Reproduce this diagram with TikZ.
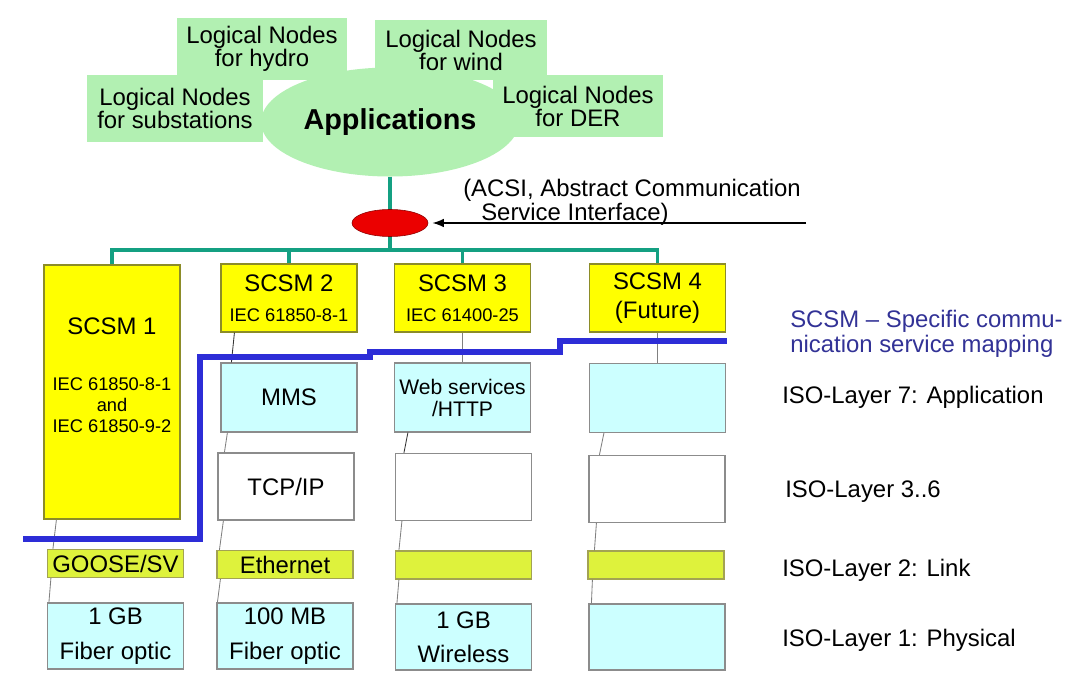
\documentclass[tikz,border=0pt]{standalone}
\usepackage{fontspec}
\setmainfont{Liberation Sans}
\usetikzlibrary{shapes.geometric, arrows.meta}
\definecolor{lngreen}{RGB}{178,240,178}
\definecolor{busteal}{RGB}{20,160,130}
\definecolor{scsmyellow}{RGB}{255,255,0}
\definecolor{scsmedge}{RGB}{140,140,40}
\definecolor{appcyan}{RGB}{204,255,255}
\definecolor{linklime}{RGB}{222,242,60}
\definecolor{boxedge}{RGB}{140,140,140}
\definecolor{mapblue}{RGB}{45,45,215}
\definecolor{maptext}{RGB}{50,50,150}
\definecolor{acsired}{RGB}{235,0,0}

\begin{document}
\begin{tikzpicture}[x=0.025cm, y=-0.025cm,
  lnbox/.style={fill=lngreen, align=center, inner sep=0pt, font=\fontsize{17}{16.4}\selectfont},
  layerbox/.style={draw=boxedge, line width=0.8pt, align=center, inner sep=0pt, minimum width=3.4cm, font=\fontsize{17}{21}\selectfont},
  scsmbox/.style={layerbox, draw=scsmedge, fill=scsmyellow},
  appbox/.style={layerbox, fill=appcyan, minimum height=1.725cm},
  tcpbox/.style={layerbox, fill=white, minimum height=1.675cm},
  linkbox/.style={layerbox, draw=scsmedge!80, fill=linklime, minimum height=0.7cm},
  physbox/.style={layerbox, fill=appcyan, minimum height=1.65cm, font=\fontsize{17}{24.5}\selectfont},
  trunk/.style={draw=busteal, line width=2.2pt},
  stack/.style={draw=gray, line width=0.6pt},
  layerlabel/.style={anchor=west, inner sep=0pt, font=\fontsize{17}{21}\selectfont}
]
\useasboundingbox (0,0) rectangle (1068,675);

\node[lnbox, minimum width=4.25cm, minimum height=1.55cm] (lnhydro) at (262,49) {Logical Nodes\\for hydro};
\node[lnbox, minimum width=4.275cm, minimum height=1.5cm] (lnwind) at (461,50) {Logical Nodes\\for wind};
\node[ellipse, fill=lngreen, minimum width=6.4cm, minimum height=2.725cm, font=\bfseries\fontsize{20.5}{24}\selectfont] (apps) at (390,122) {Applications};
\node[lnbox, minimum width=4.4cm, minimum height=1.675cm] (lnsub) at (175,108.5) {Logical Nodes\\for substations};
\node[lnbox, minimum width=4.25cm, minimum height=1.55cm] (lnder) at (578,106) {Logical Nodes\\for DER};

\node[ellipse, draw=acsired!60!black, fill=acsired, minimum width=1.9cm, minimum height=0.675cm, inner sep=0pt] (acsi) at (390,223) {};
\node[anchor=north west, align=left, inner sep=0pt, font=\fontsize{17}{17}\selectfont] (acsitext) at (463,179) {(ACSI, Abstract Communication\\\hspace*{0.45cm}Service Interface)};
\coordinate (acsitail) at (806,223);
\draw[line width=0.9pt, -{Latex[length=8pt,width=6pt]}, shorten >=3pt] (acsitail) -- (acsi.east);

\node[scsmbox, minimum height=6.35cm, font=\fontsize{13}{15}\selectfont] (scsm1) at (112,392) {{\fontsize{17}{17}\selectfont SCSM 1}\\[25pt]IEC 61850-8-1\\and\\IEC 61850-9-2\\[9pt]\mbox{}};
\node[linkbox] (link1) at (115.5,563.5) {GOOSE/SV};
\node[physbox] (phys1) at (115.5,636) {1 GB\\Fiber optic};

\node[scsmbox, minimum height=1.7cm] (scsm2) at (289,298) {SCSM 2\\{\fontsize{13}{15}\selectfont IEC 61850-8-1}};
\node[appbox] (app2) at (289,397.5) {MMS};
\node[tcpbox] (tcp2) at (286,486.5) {TCP/IP};
\node[linkbox] (link2) at (285,564.5) {Ethernet};
\node[physbox] (phys2) at (285,636) {100 MB\\Fiber optic};

\node[scsmbox, minimum height=1.7cm] (scsm3) at (462.5,298) {SCSM 3\\{\fontsize{13}{15}\selectfont IEC 61400-25}};
\node[appbox, font=\fontsize{15}{15.6}\selectfont] (app3) at (462.5,397.5) {Web services\\/HTTP};
\node[tcpbox] (tcp3) at (463.5,487) {};
\node[linkbox] (link3) at (463.5,565) {};
\node[physbox] (phys3) at (463.5,637) {1 GB\\Wireless};

\node[scsmbox, minimum height=1.7cm] (scsm4) at (657.5,298) {SCSM 4\\(Future)};
\node[appbox] (app4) at (657.5,398) {};
\node[tcpbox] (tcp4) at (657,489) {};
\node[linkbox] (link4) at (656,565) {};
\node[physbox] (phys4) at (657,637) {};

\coordinate (bus) at (390,250);
\draw[trunk] (apps.south) -- (acsi.north);
\draw[trunk] (acsi.south) -- (bus);
\draw[trunk] (scsm1.north) |- (bus) -| (scsm4.north);
\draw[trunk] (scsm2.north) -- (scsm2.north |- bus);
\draw[trunk] (scsm3.north) -- (scsm3.north |- bus);

\draw[stack] ([xshift=0.325cm]scsm1.south west) -- ([xshift=0.15cm]link1.north west);
\draw[stack] ([xshift=0.1cm]link1.south west) -- ([xshift=0.05cm]phys1.north west);
\draw[stack, draw=black!80] ([xshift=0.35cm]scsm2.south west) -- ([xshift=0.275cm]app2.north west);
\draw[stack] ([xshift=0.175cm]app2.south west) -- ([xshift=0.175cm]tcp2.north west);
\draw[stack] ([xshift=0.15cm]tcp2.south west) -- ([xshift=0.075cm]link2.north west);
\draw[stack] ([xshift=0.1cm]link2.south west) -- ([xshift=0.025cm]phys2.north west);
\draw[stack] (scsm3.south) -- (app3.north);
\draw[stack, draw=black!80] ([xshift=0.35cm]app3.south west) -- ([xshift=0.225cm]tcp3.north west);
\draw[stack] ([xshift=0.175cm]tcp3.south west) -- ([xshift=0.1cm]link3.north west);
\draw[stack] ([xshift=0.1cm]link3.south west) -- ([xshift=0.05cm]phys3.north west);
\draw[stack] (scsm4.south) -- (app4.north);
\draw[stack] ([xshift=0.375cm]app4.south west) -- ([xshift=0.275cm]tcp4.north west);
\draw[stack] ([xshift=0.2cm]tcp4.south west) -- ([xshift=0.175cm]link4.north west);
\draw[stack] ([xshift=0.125cm]link4.south west) -- ([xshift=0.075cm]phys4.north west);

\draw[mapblue, line width=3.6pt] (23,539) -| (200,357) -- (370,357) -- (370,352) -- (560,352) -- (560,341) -- (727,341);

\node[anchor=north west, align=left, inner sep=0pt, text=maptext, font=\fontsize{17}{17.8}\selectfont] (maplabel) at (790,310) {SCSM -- Specific commu-\\nication service mapping};
\node[layerlabel] (iso7) at (782,397) {ISO-Layer 7: Application};
\node[layerlabel] (iso36) at (785,492) {ISO-Layer 3..6};
\node[layerlabel] (iso2) at (782,570) {ISO-Layer 2: Link};
\node[layerlabel] (iso1) at (782,640) {ISO-Layer 1: Physical};
\end{tikzpicture}
\end{document}
